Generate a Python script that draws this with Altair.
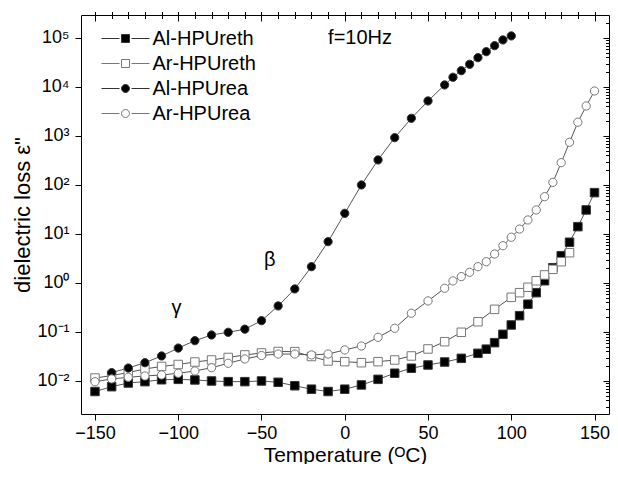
import altair as alt
import pandas as pd

# ---------------- data ----------------
names = ["Al-HPUreth", "Ar-HPUreth", "Al-HPUrea", "Ar-HPUrea"]

T_al_ureth = [-150, -140, -130, -120, -110, -100, -90, -80, -70, -60, -50, -40, -30, -20, -10,
              0, 10, 20, 30, 40, 50, 60, 70, 80, 85, 90, 95, 100, 105, 110, 115, 120, 125,
              130, 135, 140, 145, 150]
v_al_ureth = [0.0061, 0.00765, 0.0091, 0.0097, 0.0106, 0.0108, 0.0105, 0.0100, 0.0097, 0.0097,
              0.0100, 0.0094, 0.0080, 0.0068, 0.0061, 0.0068, 0.0083, 0.0108, 0.0144, 0.0182,
              0.0212, 0.0244, 0.0290, 0.0367, 0.0446, 0.0605, 0.0897, 0.139, 0.215, 0.369,
              0.634, 1.11, 2.05, 3.6, 6.78, 14.1, 30.9, 69.7]

T_ar_ureth = [-150, -140, -130, -120, -110, -100, -90, -80, -70, -60, -50, -40, -30, -20, -10,
              0, 10, 20, 30, 40, 50, 60, 70, 80, 90, 100, 105, 110, 115, 120, 125, 130, 135]
v_ar_ureth = [0.0115, 0.0129, 0.0149, 0.0176, 0.0198, 0.0217, 0.0244, 0.0268, 0.0302, 0.034,
              0.0373, 0.040, 0.0397, 0.0316, 0.0256, 0.0248, 0.0236, 0.0248, 0.0268, 0.0324,
              0.045, 0.0634, 0.0986, 0.162, 0.29, 0.51, 0.634, 0.817, 1.11, 1.46, 1.9, 2.72, 4.15]

T_al_urea = [-140, -130, -120, -110, -100, -90, -80, -70, -60, -50, -40, -30, -20, -10,
             0, 10, 20, 30, 40, 50, 60, 65, 70, 75, 80, 85, 90, 95, 100]
v_al_urea = [0.0148, 0.0184, 0.0236, 0.0324, 0.047, 0.0664, 0.0868, 0.0986, 0.114, 0.170,
             0.34, 0.755, 2.15, 6.97, 26.4, 100, 324, 923, 2296, 5180, 10990, 15780, 21500,
             29040, 39600, 52500, 69600, 91000, 110000]

T_ar_urea = [-150, -140, -130, -120, -110, -100, -90, -80, -70, -60, -50, -40, -30, -20, -10,
             0, 10, 20, 30, 40, 50, 60, 65, 70, 75, 80, 85, 90, 95, 100, 105, 110, 115, 120,
             125, 130, 135, 140, 145, 150]
v_ar_urea = [0.00968, 0.011, 0.0119, 0.01265, 0.01326, 0.01436, 0.016, 0.01868, 0.023, 0.0281,
             0.0331, 0.0355, 0.0355, 0.034, 0.0355, 0.043, 0.0518, 0.078, 0.119, 0.241, 0.43,
             0.78, 1.1, 1.35, 1.65, 2.15, 2.72, 3.9, 5.77, 8.57, 12.6, 19.3, 30.9, 57.7, 113,
             285, 743, 1905, 4090, 8280]

x_major = [-150, -100, -50, 0, 50, 100, 150]
x_minor = [-150, -140, -130, -120, -110, -100, -90, -80, -70, -60, -50, -40, -30, -20, -10,
           0, 10, 20, 30, 40, 50, 60, 70, 80, 90, 100, 110, 120, 130, 140, 150]
y_exps = [-2, -1, 0, 1, 2, 3, 4, 5]
y_major = [1e-2, 1e-1, 1e0, 1e1, 1e2, 1e3, 1e4, 1e5]
y_minor = [0.003, 0.004, 0.005, 0.006, 0.007, 0.008, 0.009,
           0.02, 0.03, 0.04, 0.05, 0.06, 0.07, 0.08, 0.09,
           0.2, 0.3, 0.4, 0.5, 0.6, 0.7, 0.8, 0.9,
           2, 3, 4, 5, 6, 7, 8, 9,
           20, 30, 40, 50, 60, 70, 80, 90,
           200, 300, 400, 500, 600, 700, 800, 900,
           2e3, 3e3, 4e3, 5e3, 6e3, 7e3, 8e3, 9e3,
           2e4, 3e4, 4e4, 5e4, 6e4, 7e4, 8e4, 9e4,
           2e5]

ann_text = ["f=10Hz", "β", "γ"]
ann_T = [-10, -48.5, -104]
ann_v = [75500, 2.22, 0.229]

# ---------------- styles ----------------
FONT = "Liberation Sans"
W, H = 528, 399
shapes = ["square", "square", "circle", "circle"]
sizes = [72, 72, 68, 68]
fills = ["#000000", "#ffffff", "#000000", "#ffffff"]
strokes = ["#333333", "#777777", "#333333", "#777777"]
leg_paths = [
    "M-6,0H-1.5M-1,-1H1V1H-1ZM1.5,0H6",
    "M-6,0H-1.5M-1,-1H1V1H-1ZM1.5,0H6",
    "M-6,0H-1.5M-1,0A1,1,0,1,1,1,0A1,1,0,1,1,-1,0ZM1.5,0H6",
    "M-6,0H-1.5M-1,0A1,1,0,1,1,1,0A1,1,0,1,1,-1,0ZM1.5,0H6",
]

series = [(names[0], T_al_ureth, v_al_ureth), (names[1], T_ar_ureth, v_ar_ureth),
          (names[2], T_al_urea, v_al_urea), (names[3], T_ar_urea, v_ar_urea)]
rows = []
for nm, ts, vs in series:
    for t, v in zip(ts, vs):
        rows.append({"series": nm, "T": t, "v": v})
df = pd.DataFrame(rows)
ann = pd.DataFrame({"text": ann_text, "T": ann_T, "v": ann_v})

xs = alt.Scale(domain=[-158.4, 158.7], nice=False, zero=False)
ys = alt.Scale(type="log", domain=[0.00212, 2.94e5], nice=False)

sup = {"-": "⁻", "0": "⁰", "1": "¹", "2": "²", "3": "³", "4": "⁴", "5": "⁵"}
label_expr = ""
for e in y_exps:
    label_expr += "round(log(datum.value)/LN10)==%d?'10%s':" % (e, "".join(sup[c] for c in str(e)))
label_expr += "''"

base = alt.Chart(df)

lines = base.mark_line(color="#555555", strokeWidth=1).encode(
    x=alt.X("T:Q", scale=xs, axis=alt.Axis(
        values=x_major, tickSize=6, labelPadding=4, domain=False, grid=False,
        title="Temperature (ᴼC)", titleY=47, titleBaseline="alphabetic",
        titleFontWeight="normal", titleFont=FONT, labelFont=FONT,
        labelFontSize=18, titleFontSize=21, labelFlush=False,
        tickColor="black", labelColor="black", titleColor="black")),
    y=alt.Y("v:Q", scale=ys, axis=alt.Axis(
        values=y_major, labelExpr=label_expr, tickSize=6, labelPadding=6, domain=False,
        grid=False, title='dielectric loss ε"', titleX=-52, titleBaseline="alphabetic",
        titleFontWeight="normal", titleFont=FONT, labelFont=FONT,
        labelFontSize=18, titleFontSize=22,
        tickColor="black", labelColor="black", titleColor="black")),
    detail="series:N",
    order="T:Q",
)

points = []
for nm, shp, sz, fl, st in zip(names, shapes, sizes, fills, strokes):
    points.append(
        base.transform_filter(alt.datum.series == nm)
        .mark_point(shape=shp, filled=True, fill=fl, stroke=st, strokeWidth=1, size=sz, opacity=1)
        .encode(x=alt.X("T:Q", scale=xs, axis=None), y=alt.Y("v:Q", scale=ys, axis=None))
    )

empty = base.transform_filter("false").mark_point(opacity=0)
tick_common = dict(labels=False, domain=False, grid=False, title=None, tickColor="black")

minor_ax = empty.encode(
    x=alt.X("T:Q", scale=xs, axis=alt.Axis(values=x_minor, tickSize=3.5, **tick_common)),
    y=alt.Y("v:Q", scale=ys, axis=alt.Axis(values=y_minor, tickSize=3.5, **tick_common)),
)
mirror_major = empty.encode(
    x=alt.X("T:Q", scale=xs, axis=alt.Axis(orient="bottom", offset=-H, values=x_major,
                                           tickSize=6, **tick_common)),
    y=alt.Y("v:Q", scale=ys, axis=alt.Axis(orient="left", offset=-W, values=y_major,
                                           tickSize=6, **tick_common)),
)
mirror_minor = empty.encode(
    x=alt.X("T:Q", scale=xs, axis=alt.Axis(orient="bottom", offset=-H, values=x_minor,
                                           tickSize=3.5, **tick_common)),
    y=alt.Y("v:Q", scale=ys, axis=alt.Axis(orient="left", offset=-W, values=y_minor,
                                           tickSize=3.5, **tick_common)),
)

texts = alt.Chart(ann).mark_text(align="left", baseline="alphabetic", fontSize=20,
                                 font=FONT, color="black").encode(
    x=alt.X("T:Q", scale=xs, axis=None), y=alt.Y("v:Q", scale=ys, axis=None), text="text:N")

leg = alt.Legend(title=None, orient="none", legendX=34.5, legendY=13.5, padding=0,
                 labelFontSize=20, labelFont=FONT, labelColor="black", labelOffset=17,
                 symbolSize=64, symbolStrokeWidth=1, rowPadding=5)
legend_layer = base.transform_filter("false").mark_point(filled=True, opacity=1).encode(
    x=alt.X("T:Q", scale=xs, axis=None), y=alt.Y("v:Q", scale=ys, axis=None),
    shape=alt.Shape("series:N", scale=alt.Scale(domain=names, range=leg_paths), legend=leg),
    fill=alt.Fill("series:N", scale=alt.Scale(domain=names, range=fills), legend=leg),
    stroke=alt.Stroke("series:N", scale=alt.Scale(domain=names, range=strokes), legend=leg),
)

chart = alt.layer(lines, *points, minor_ax, mirror_major, mirror_minor, texts, legend_layer).resolve_axis(
    x="independent", y="independent"
).properties(
    width=W, height=H, autosize="none", background="white",
    padding={"left": 73, "top": 7, "right": 1, "bottom": 50},
).configure_view(stroke="black", strokeWidth=1).configure_axis(
    labelFont=FONT, titleFont=FONT, labelColor="black", titleColor="black",
    tickColor="black", titleFontWeight="normal", grid=False,
)

chart.save("out.html", embed_options={"renderer": "svg", "actions": False})
